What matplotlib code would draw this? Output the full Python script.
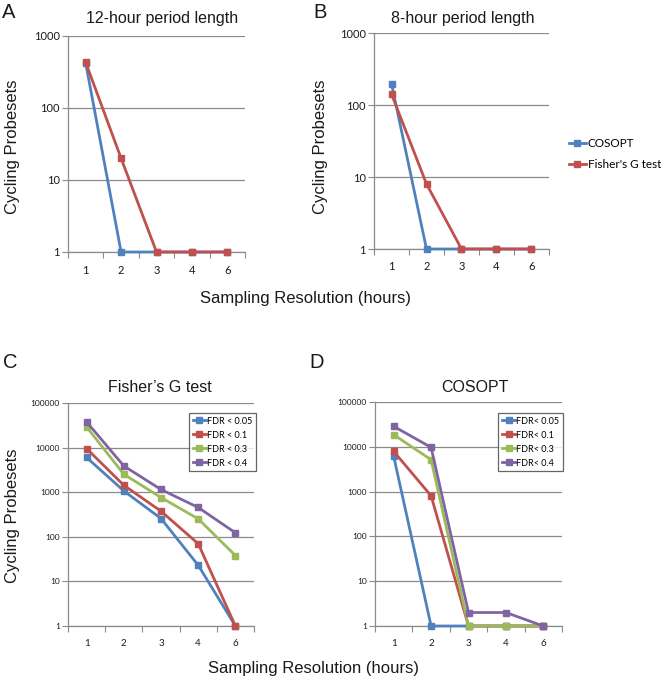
import matplotlib
matplotlib.use("Agg")
import matplotlib.pyplot as plt
from matplotlib.lines import Line2D
import numpy as np

# categories (sampling resolution in hours)
resolution = ["1", "2", "3", "4", "6"]

# A: 12-hour period length
a_cosopt = [420, 1, 1, 1, 1]
a_fisher = [430, 20, 1, 1, 1]

# B: 8-hour period length
b_cosopt = [198, 1, 1, 1, 1]
b_fisher = [142, 8, 1, 1, 1]

fdr_labels = ["FDR < 0.05", "FDR < 0.1", "FDR < 0.3", "FDR < 0.4"]
fdr_labels_d = ["FDR< 0.05", "FDR< 0.1", "FDR< 0.3", "FDR< 0.4"]

# C: Fisher's G test
c_fdr005 = [6000, 1070, 257, 23, 1]
c_fdr01 = [9500, 1430, 375, 70, 1]
c_fdr03 = [29000, 2530, 760, 253, 38]
c_fdr04 = [37600, 3880, 1150, 455, 123]

# D: COSOPT
d_fdr005 = [6100, 1, 1, 1, 1]
d_fdr01 = [7900, 805, 1, 1, 1]
d_fdr03 = [18600, 5150, 1, 1, 1]
d_fdr04 = [28600, 9700, 2, 2, 1]

blue = "#4F81BD"
red = "#C0504D"
green = "#9BBB59"
purple = "#8064A2"
grey = "#8A8A8A"
txt = "#1a1a1a"

W, H = 661, 679
fig = plt.figure(figsize=(W / 100, H / 100), dpi=100)
tick_font = "Lato"
text_font = "Liberation Sans"


def px_axes(left, top, right, bottom):
    return fig.add_axes([left / W, 1 - bottom / H, (right - left) / W, (bottom - top) / H])


def fx(x):
    return x / W


def fy(y):
    return 1 - y / H


def style(ax, ymax, ysize, xsize):
    x = np.arange(len(resolution))
    ax.set_yscale("log")
    ax.set_ylim(1, ymax)
    ax.set_xlim(-0.5, len(resolution) - 0.5)
    decades = [10 ** k for k in range(int(np.log10(ymax)) + 1)]
    ax.set_yticks(decades)
    ax.set_yticklabels([str(d) for d in decades], fontsize=ysize, family=tick_font, color=txt)
    ax.yaxis.set_minor_locator(matplotlib.ticker.NullLocator())
    ax.set_xticks(x)
    ax.set_xticklabels(resolution, fontsize=xsize, family=tick_font, color=txt)
    ax.set_xticks(np.arange(-0.5, len(resolution)), minor=True)
    ax.tick_params(axis="x", which="major", length=0, pad=9)
    ax.tick_params(axis="x", which="minor", length=4, color=grey, width=0.8)
    ax.tick_params(axis="y", length=4, color=grey, width=0.8, pad=2)
    for s in ["top", "right"]:
        ax.spines[s].set_visible(False)
    for s in ["left", "bottom"]:
        ax.spines[s].set_color(grey)
        ax.spines[s].set_linewidth(0.9)
    ax.grid(axis="y", color=grey, linewidth=0.9)
    ax.set_axisbelow(True)


def series(ax, vals, color):
    ax.plot(np.arange(len(vals)), vals, color=color, lw=2, marker="s", ms=4.5,
            clip_on=False, zorder=3)


# Panel A
axA = px_axes(68, 36, 245, 252)
style(axA, 1000, 8, 8)
series(axA, a_cosopt, blue)
series(axA, a_fisher, red)

# Panel B
axB = px_axes(374, 33, 549, 249)
style(axB, 1000, 8, 8)
series(axB, b_cosopt, blue)
series(axB, b_fisher, red)

handles = [Line2D([], [], color=blue, lw=2, marker="s", ms=4.5),
           Line2D([], [], color=red, lw=2, marker="s", ms=4.5)]
fig.legend(handles, ["COSOPT", "Fisher's G test"], loc="center left",
           bbox_to_anchor=(fx(558), fy(154)), frameon=False, handlelength=1.5,
           handletextpad=0.1, labelspacing=0.9, prop={"family": tick_font, "size": 8.5})

# Panel C
axC = px_axes(68, 403, 254, 626)
style(axC, 100000, 6, 7)
for vals, col in zip([c_fdr005, c_fdr01, c_fdr03, c_fdr04], [blue, red, green, purple]):
    series(axC, vals, col)

# Panel D
axD = px_axes(375, 402, 562, 626)
style(axD, 100000, 6, 7)
for vals, col in zip([d_fdr005, d_fdr01, d_fdr03, d_fdr04], [blue, red, green, purple]):
    series(axD, vals, col)

for ax, labels, right in [(axC, fdr_labels, 256), (axD, fdr_labels_d, 563)]:
    hs = [Line2D([], [], color=c, lw=2, marker="s", ms=4.5) for c in [blue, red, green, purple]]
    leg = ax.legend(hs, labels, loc="upper right", bbox_to_anchor=(fx(right), fy(413)),
                    bbox_transform=fig.transFigure, borderaxespad=0, fancybox=False,
                    handlelength=1.5, handletextpad=0.1, labelspacing=0.55,
                    borderpad=0.4, prop={"family": tick_font, "size": 6.5})
    leg.get_frame().set_edgecolor("#404040")
    leg.get_frame().set_linewidth(0.9)

# titles
fig.text(fx(162), fy(18), "12-hour period length", ha="center", va="center",
         fontsize=11.5, family=text_font, color=txt)
fig.text(fx(463), fy(18), "8-hour period length", ha="center", va="center",
         fontsize=11.5, family=text_font, color=txt)
fig.text(fx(160), fy(388), "Fisher\u2019s G test", ha="center", va="center",
         fontsize=11.5, family=text_font, color=txt)
fig.text(fx(475), fy(388), "COSOPT", ha="center", va="center",
         fontsize=11.5, family=text_font, color=txt)

# panel letters
for lab, x, y in [("A", 9, 12), ("B", 320, 12), ("C", 10, 362), ("D", 317, 362)]:
    fig.text(fx(x), fy(y), lab, ha="center", va="center", fontsize=14.5,
             family=text_font, color=txt)

# axis labels
for x, y in [(13, 147), (320, 147), (13, 516)]:
    fig.text(fx(x), fy(y), "Cycling Probesets", rotation=90, ha="center", va="center",
             fontsize=12, family=text_font, color=txt)
fig.text(fx(305), fy(298), "Sampling Resolution (hours)", ha="center", va="center",
         fontsize=12, family=text_font, color=txt)
fig.text(fx(313), fy(669), "Sampling Resolution (hours)", ha="center", va="center",
         fontsize=12, family=text_font, color=txt)

fig.savefig("out.png", dpi=100)
